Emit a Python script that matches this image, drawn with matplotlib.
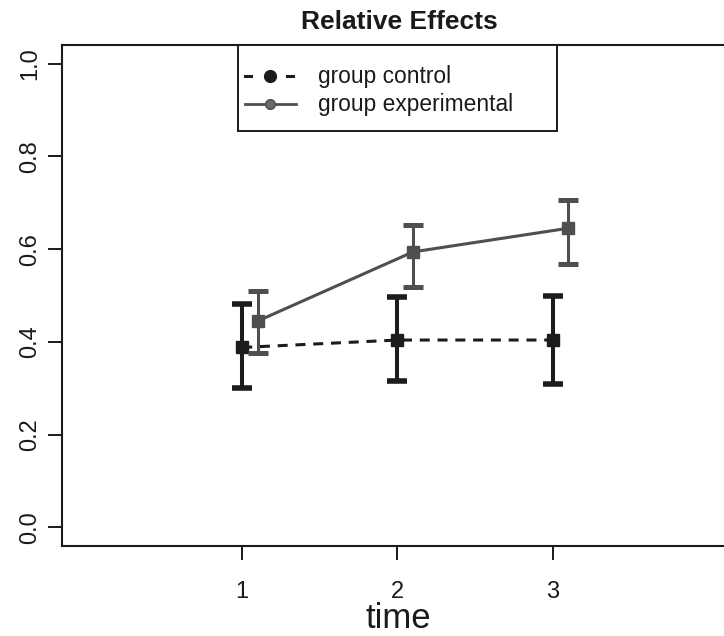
import matplotlib
matplotlib.use("Agg")
import matplotlib.pyplot as plt
from matplotlib.lines import Line2D
from matplotlib.patches import Rectangle

plt.rcParams['font.family'] = ['Liberation Sans', 'DejaVu Sans']
plt.rcParams['lines.scale_dashes'] = False

# ---- data ----
time = [1, 2, 3]
time_labels = ["1", "2", "3"]
control_mean = [0.388, 0.404, 0.404]
control_lower = [0.300, 0.316, 0.310]
control_upper = [0.481, 0.496, 0.499]
exp_mean = [0.445, 0.594, 0.645]
exp_lower = [0.375, 0.519, 0.568]
exp_upper = [0.510, 0.651, 0.705]
series_names = ["group control", "group experimental"]
yticks = [0.0, 0.2, 0.4, 0.6, 0.8, 1.0]
ytick_labels = ["0.0", "0.2", "0.4", "0.6", "0.8", "1.0"]

DODGE = 0.1
CTRL_COLOR = "#1c1c1c"
EXP_COLOR = "#4f4f4f"

W, H = 724, 636
fig = plt.figure(figsize=(W / 100, H / 100), dpi=100)
L, R, T, B = 62, 733, 45, 546
ax = fig.add_axes([L / W, (H - B) / H, (R - L) / W, (B - T) / H])

ax.set_xlim(-0.16, 4.16)
ax.set_ylim(-0.04, 1.04)

# control
ctrl_x = time
ax.plot(ctrl_x, control_mean, color=CTRL_COLOR, lw=2.2, dashes=[7.2, 5.6], zorder=2)
ax.errorbar(ctrl_x, control_mean,
            yerr=[[m - lo for m, lo in zip(control_mean, control_lower)],
                  [hi - m for m, hi in zip(control_mean, control_upper)]],
            fmt='s', color=CTRL_COLOR, ms=8, elinewidth=2.9, capsize=7.2, capthick=4.0,
            zorder=3)

# experimental
exp_x = [t + DODGE for t in time]
ax.plot(exp_x, exp_mean, color=EXP_COLOR, lw=2.2, zorder=4)
ax.errorbar(exp_x, exp_mean,
            yerr=[[m - lo for m, lo in zip(exp_mean, exp_lower)],
                  [hi - m for m, hi in zip(exp_mean, exp_upper)]],
            fmt='s', color=EXP_COLOR, ms=8, elinewidth=2.2, capsize=7.0, capthick=3.6,
            zorder=5)

# axes styling
for s in ax.spines.values():
    s.set_linewidth(1.5)
    s.set_color("#1a1a1a")
ax.set_xticks(time)
ax.set_xticklabels(time_labels)
ax.set_yticks(yticks)
ax.set_yticklabels(ytick_labels, rotation=90, va='center')
ax.tick_params(axis='both', length=10, width=1.4, color="#1a1a1a", labelsize=17,
               labelcolor="#1a1a1a")
ax.tick_params(axis='x', pad=15)
ax.tick_params(axis='y', pad=5)

fig.text(398 / W, 1 - 618 / H, "time", ha='center', va='center', fontsize=25,
         color="#1a1a1a")
fig.text(399 / W, 1 - 22 / H, "Relative Effects", ha='center', va='center',
         fontsize=19, fontweight='bold', color="#1a1a1a")

# manual legend (R style)
def ax_x(px):
    return (px - L) / (R - L)

def ax_y(py):
    return (B - py) / (B - T)

ax.add_patch(Rectangle((ax_x(238), ax_y(131)), ax_x(557) - ax_x(238),
                       ax_y(45) - ax_y(131), transform=ax.transAxes,
                       facecolor='white', edgecolor="#1a1a1a", lw=1.4, zorder=10,
                       clip_on=False))
rows = [76, 104]
# control handle
yc = ax_y(rows[0])
ax.add_line(Line2D([ax_x(245), ax_x(251)], [yc, yc], color=CTRL_COLOR, lw=2.2,
                   transform=ax.transAxes, zorder=11))
ax.add_line(Line2D([ax_x(287), ax_x(293)], [yc, yc], color=CTRL_COLOR, lw=2.2,
                   transform=ax.transAxes, zorder=11))
ax.add_line(Line2D([ax_x(270)], [yc], marker='o', ms=8.5, color=CTRL_COLOR,
                   transform=ax.transAxes, zorder=12))
# experimental handle
ye = ax_y(rows[1])
ax.add_line(Line2D([ax_x(245), ax_x(296)], [ye, ye], color=EXP_COLOR, lw=2.0,
                   transform=ax.transAxes, zorder=11))
ax.add_line(Line2D([ax_x(270)], [ye], marker='o', ms=7, color=EXP_COLOR,
                   markerfacecolor="#6a6a6a", transform=ax.transAxes, zorder=12))
for name, ry in zip(series_names, rows):
    ax.text(ax_x(318), ax_y(ry), name, transform=ax.transAxes, ha='left',
            va='center', fontsize=16.4, color="#1a1a1a", zorder=12)

fig.savefig("out.png", dpi=100)
